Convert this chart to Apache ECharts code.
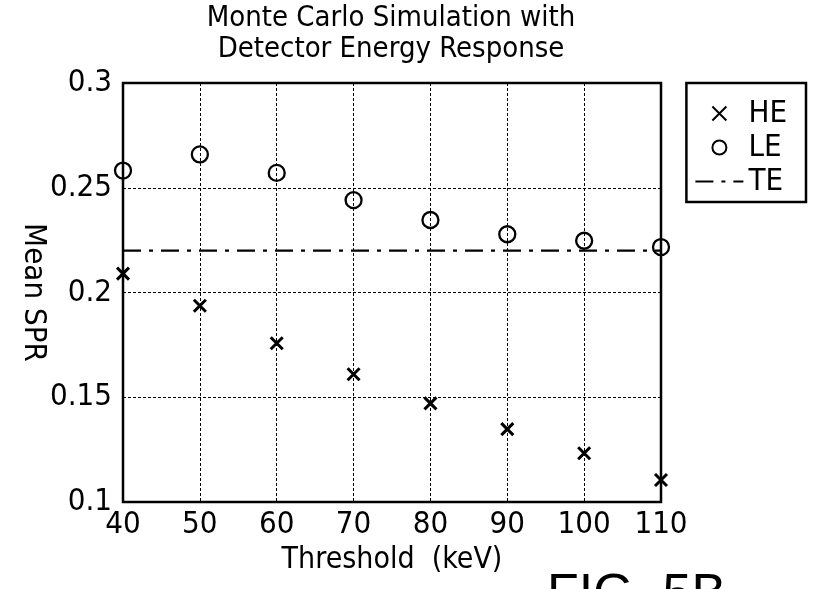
<!DOCTYPE html>
<html>
<head>
<meta charset="utf-8">
<script src="https://cdn.jsdelivr.net/npm/echarts@6/dist/echarts.min.js"></script>
<style>html,body{margin:0;padding:0;background:#fff}#c{width:814px;height:589px}</style>
</head>
<body>
<div id="c"></div>
<script>
const thresholds = [40, 50, 60, 70, 80, 90, 100, 110];
const heValues = [0.209, 0.1937, 0.1758, 0.161, 0.1471, 0.1348, 0.1233, 0.1105];
const leValues = [0.2582, 0.2659, 0.2571, 0.2441, 0.2346, 0.2278, 0.2247, 0.2217];
const teValue = 0.22;
const seriesNames = ['HE', 'LE', 'TE'];
const xTicks = [40, 50, 60, 70, 80, 90, 100, 110];
const yTicks = [0.1, 0.15, 0.2, 0.25, 0.3];

const FONT = "'Liberation Sans Narrow', 'DejaVu Sans Condensed', 'Roboto Condensed', sans-serif";
const chart = echarts.init(document.getElementById('c'), null, {renderer: 'canvas'});

const option = {
  animation: false,
  backgroundColor: '#fff',
  title: {
    text: 'Monte Carlo Simulation with\nDetector Energy Response',
    left: 391, top: 3, textAlign: 'center', padding: 0,
    textStyle: {fontFamily: FONT, fontSize: 29, lineHeight: 31, fontWeight: 'normal', color: '#000'}
  },
  grid: {left: 123, right: 153, top: 83, bottom: 87, show: true, borderColor: '#000', borderWidth: 2.5, backgroundColor: 'transparent'},
  legend: {
    orient: 'vertical', right: 8, top: 83,
    data: [
      {name: seriesNames[0]},
      {name: seriesNames[1]},
      {name: seriesNames[2], itemStyle: {color: 'rgba(0,0,0,0)', borderWidth: 0, opacity: 0}}
    ],
    borderColor: '#000', borderWidth: 2.5, borderRadius: 0,
    padding: [15, 19, 5, 8], itemGap: 3, itemWidth: 48, itemHeight: 14,
    textStyle: {fontFamily: FONT, fontSize: 31, lineHeight: 29, color: '#000'},
    selectedMode: false
  },
  xAxis: {
    type: 'value', min: xTicks[0], max: xTicks[xTicks.length - 1], interval: 10,
    name: 'Threshold  (keV)', nameLocation: 'middle', nameGap: 42,
    nameTextStyle: {fontFamily: FONT, fontSize: 30, color: '#000'},
    axisLine: {show: false}, axisTick: {show: false},
    axisLabel: {fontFamily: FONT, fontSize: 31, color: '#000', margin: 7},
    splitLine: {show: true, lineStyle: {color: '#000', width: 1, type: [3, 2]}}
  },
  yAxis: {
    type: 'value', min: yTicks[0], max: yTicks[yTicks.length - 1], interval: 0.05,
    name: 'Mean SPR', nameLocation: 'middle', nameGap: 74, nameRotate: -90,
    nameMoveOverlap: false,
    nameTextStyle: {fontFamily: FONT, fontSize: 31, color: '#000'},
    axisLine: {show: false}, axisTick: {show: false},
    axisLabel: {fontFamily: FONT, fontSize: 31, color: '#000', margin: 11},
    splitLine: {show: true, lineStyle: {color: '#000', width: 1, type: [3, 2]}}
  },
  series: [
    {
      name: seriesNames[0], type: 'scatter', z: 5,
      data: thresholds.map((t, i) => [t, heValues[i]]),
      symbol: 'path://M0,0L10,10M10,0L0,10', symbolSize: 12,
      itemStyle: {color: 'rgba(0,0,0,0)', borderColor: '#000', borderWidth: 3, opacity: 1}
    },
    {
      name: seriesNames[1], type: 'scatter', z: 5,
      data: thresholds.map((t, i) => [t, leValues[i]]),
      symbol: 'circle', symbolSize: 16,
      itemStyle: {color: 'rgba(0,0,0,0)', borderColor: '#000', borderWidth: 2.3, opacity: 1}
    },
    {
      name: seriesNames[2], type: 'line', z: 4,
      data: [[thresholds[0], teValue], [thresholds[thresholds.length - 1], teValue]],
      symbol: 'none', showSymbol: false,
      lineStyle: {color: '#000', width: 2.2, type: [18, 8, 4, 8]},
      itemStyle: {color: '#000'}
    }
  ],
  graphic: [{
    type: 'text', left: 547, top: 570, silent: true,
    style: {text: 'FIG. 5B', font: "52px 'Liberation Sans', Arial, sans-serif", fill: '#000'}
  }]
};
chart.setOption(option);
</script>
</body>
</html>
